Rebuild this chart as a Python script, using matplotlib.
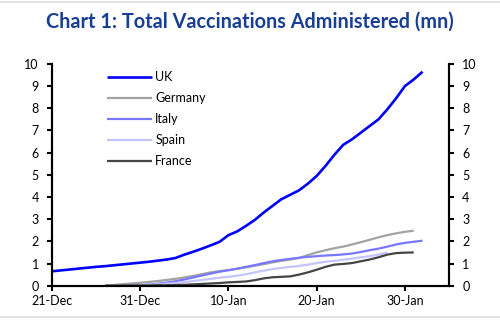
import numpy as np
import pandas as pd
import matplotlib
matplotlib.use("Agg")
from matplotlib import pyplot as plt
import matplotlib.dates as mdates
from matplotlib.lines import Line2D

plt.rcParams['font.family'] = ['Lato', 'DejaVu Sans']

# cumulative doses, millions, one value per day
uk_start = '2020-12-21'
uk = [0.65, 0.69, 0.73, 0.77, 0.81, 0.85, 0.88, 0.92, 0.96, 1.00,
      1.04, 1.08, 1.13, 1.18, 1.25, 1.40, 1.53, 1.67, 1.82, 1.98,
      2.28, 2.45, 2.70, 2.97, 3.30, 3.60, 3.90, 4.10, 4.30, 4.60,
      4.95, 5.40, 5.90, 6.35, 6.60, 6.90, 7.20, 7.50, 7.95, 8.45,
      9.00, 9.30, 9.65]

germany_start = '2020-12-27'
germany = [0.00, 0.03, 0.07, 0.10, 0.13, 0.17, 0.21, 0.26, 0.31, 0.37,
           0.44, 0.52, 0.60, 0.66, 0.70, 0.76, 0.83, 0.90, 0.97, 1.05,
           1.12, 1.18, 1.25, 1.38, 1.50, 1.60, 1.69, 1.76, 1.86, 1.96,
           2.07, 2.18, 2.28, 2.36, 2.43, 2.48]

italy_start = '2020-12-30'
italy = [0.00, 0.02, 0.05, 0.09, 0.14, 0.20, 0.28, 0.37, 0.46, 0.55,
         0.63, 0.70, 0.77, 0.85, 0.93, 1.02, 1.10, 1.16, 1.21, 1.26,
         1.30, 1.33, 1.36, 1.38, 1.41, 1.45, 1.52, 1.60, 1.67, 1.76,
         1.86, 1.93, 1.98, 2.03]

spain_start = '2020-12-30'
spain = [0.00, 0.02, 0.04, 0.06, 0.09, 0.12, 0.16, 0.21, 0.26, 0.31,
         0.36, 0.40, 0.45, 0.52, 0.60, 0.68, 0.75, 0.80, 0.85, 0.89,
         0.95, 1.02, 1.08, 1.12, 1.17, 1.22, 1.28, 1.33, 1.40, 1.50]

france_start = '2020-12-27'
france = [0.00, 0.00, 0.00, 0.01, 0.01, 0.01, 0.02, 0.02, 0.03, 0.04,
          0.06, 0.08, 0.10, 0.12, 0.15, 0.17, 0.19, 0.25, 0.33, 0.38,
          0.40, 0.42, 0.50, 0.60, 0.72, 0.85, 0.95, 0.98, 1.02, 1.10,
          1.18, 1.28, 1.40, 1.47, 1.49, 1.50]

tick_dates = ['2020-12-21', '2020-12-31', '2021-01-10', '2021-01-20', '2021-01-30']
tick_labels = ['21-Dec', '31-Dec', '10-Jan', '20-Jan', '30-Jan']

series = [('UK', uk_start, uk, '#0000FF', 1.9),
          ('Germany', germany_start, germany, '#A3A3A3', 1.6),
          ('Italy', italy_start, italy, '#7878FF', 1.6),
          ('Spain', spain_start, spain, '#C4C4FF', 1.6),
          ('France', france_start, france, '#454545', 1.6)]

fig = plt.figure(figsize=(5, 3.23), dpi=100)
ax = fig.add_axes([0.104, 0.1155, 0.794, 0.6865])

for name, start, vals, col, lw in series:
    d = pd.date_range(start, periods=len(vals), freq='D')
    ax.plot(d, vals, color=col, lw=lw, label=name, solid_capstyle='butt')

ax.set_ylim(0, 10)
ax.set_xlim(pd.Timestamp('2020-12-21'), pd.Timestamp('2021-02-04'))
ax.set_yticks(range(0, 11))
ax.set_xticks([pd.Timestamp(t) for t in tick_dates])
ax.set_xticklabels(tick_labels)

ax2 = ax.twinx()
ax2.set_ylim(0, 10)
ax2.set_yticks(range(0, 11))

for a in (ax, ax2):
    a.spines['top'].set_visible(False)
    for s in ('left', 'right', 'bottom'):
        a.spines[s].set_linewidth(1.5)
    a.tick_params(axis='both', direction='out', length=3.5, width=1.5,
                  labelsize=9, colors='black', pad=3)
ax.tick_params(axis='y', pad=6)
ax2.tick_params(axis='y', pad=6)

ax.legend(loc='upper left', bbox_to_anchor=(0.125, 0.99), frameon=False,
          fontsize=9, handlelength=3.6, handletextpad=0.3, labelspacing=0.72,
          borderaxespad=0)

fig.text(0.5, 0.933, 'Chart 1: Total Vaccinations Administered (mn)',
         ha='center', va='center', fontsize=14.3, fontweight='bold',
         color='#183E95')

# thin rules above and below the chart
fig.add_artist(Line2D([0, 1], [0.993, 0.993], color='#DDDDDD', lw=1.2,
                      transform=fig.transFigure))
fig.add_artist(Line2D([0, 1], [0.018, 0.018], color='#DDDDDD', lw=1.2,
                      transform=fig.transFigure))

fig.savefig('out.png', dpi=100)
